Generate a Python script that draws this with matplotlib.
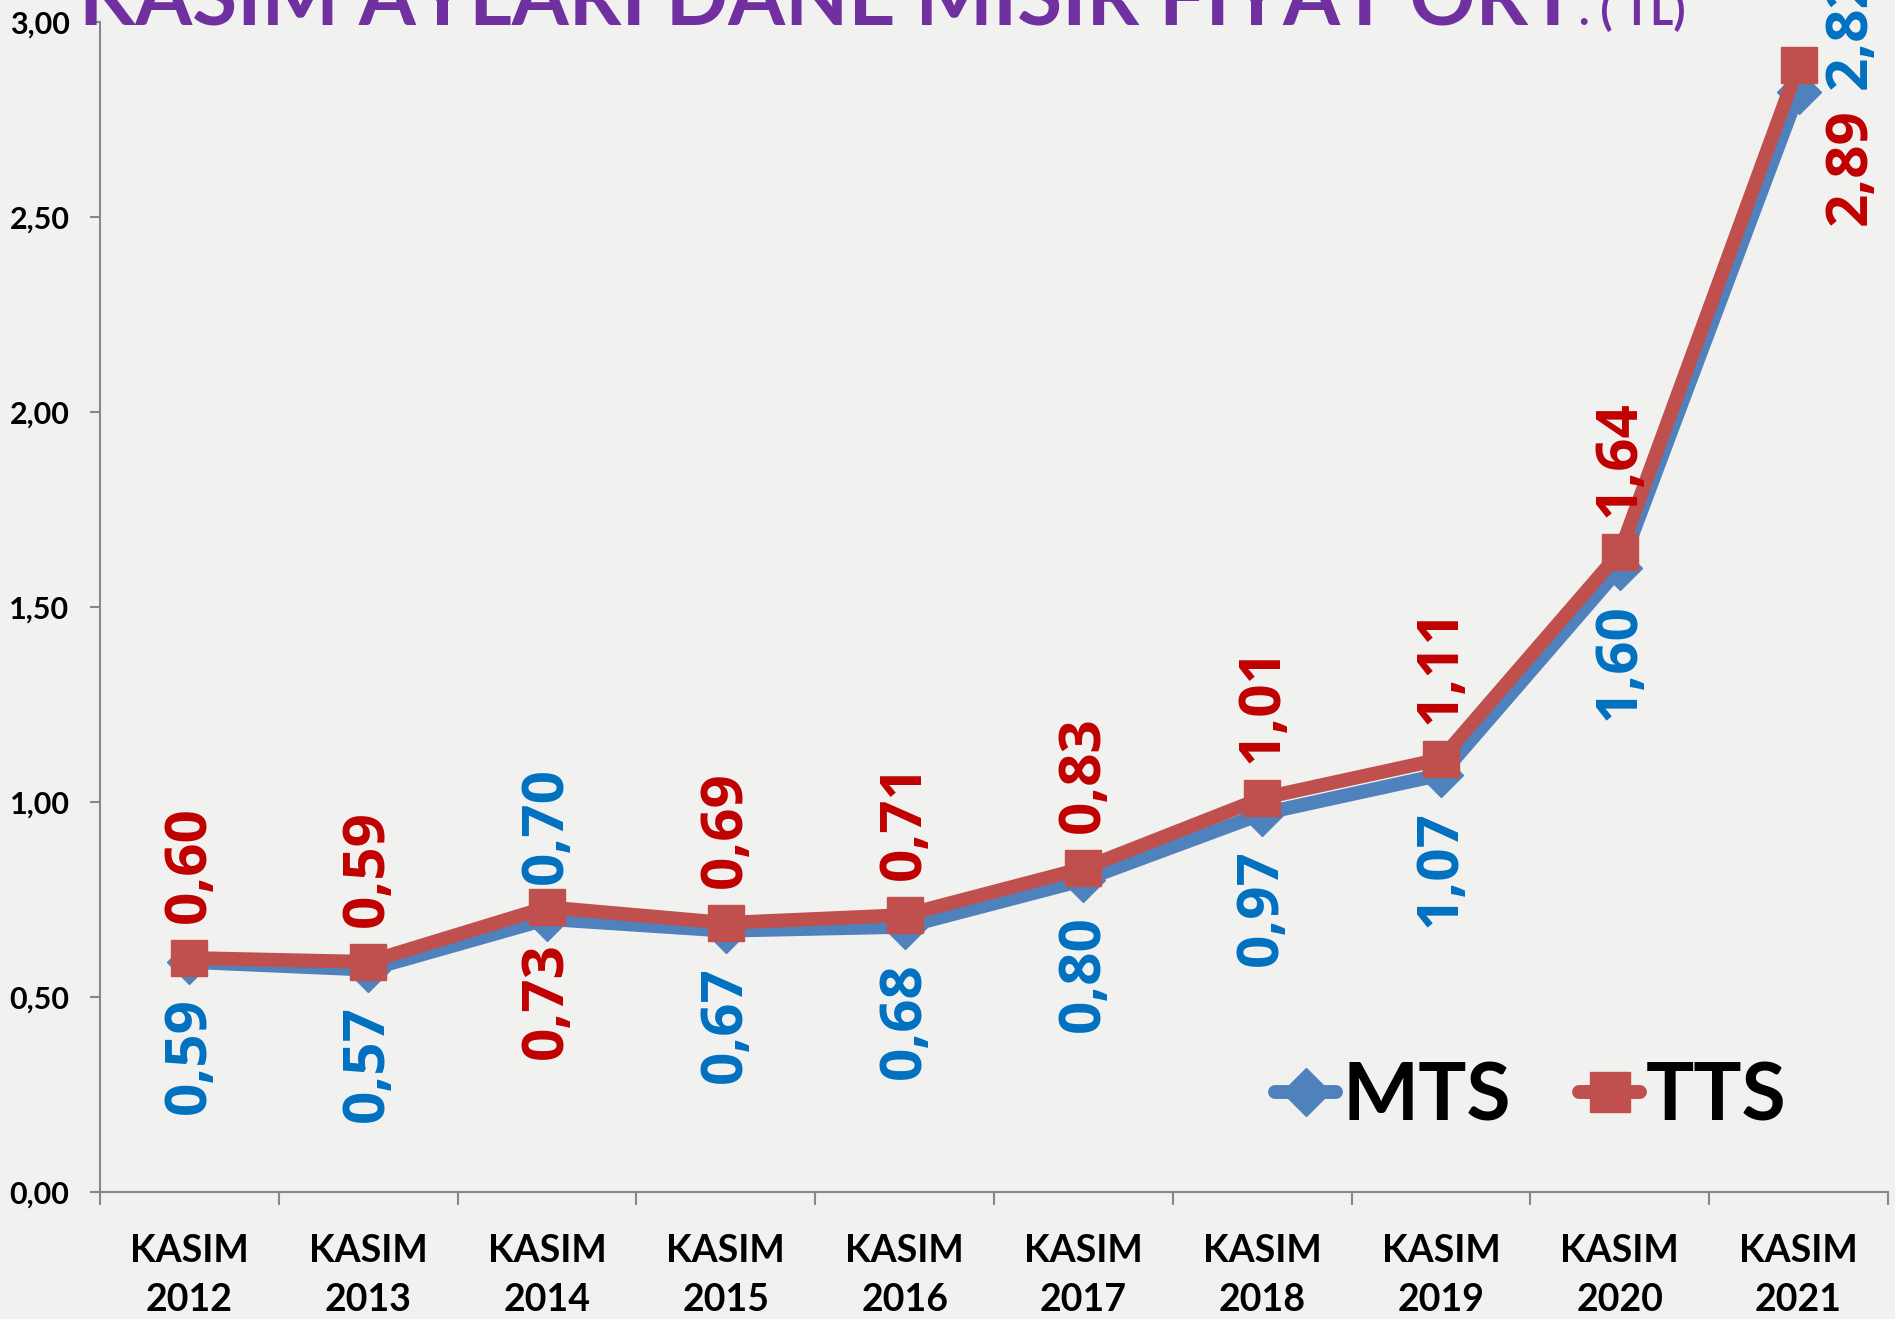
import matplotlib
matplotlib.use("Agg")
import matplotlib.pyplot as plt
import numpy as np

years = ["2012", "2013", "2014", "2015", "2016", "2017", "2018", "2019", "2020", "2021"]
mts = [0.59, 0.57, 0.70, 0.67, 0.68, 0.80, 0.97, 1.07, 1.60, 2.82]
tts = [0.60, 0.59, 0.73, 0.69, 0.71, 0.83, 1.01, 1.11, 1.64, 2.89]
yticks = [0.0, 0.5, 1.0, 1.5, 2.0, 2.5, 3.0]

# where the value labels sit: +1 above the point, -1 below
mts_side = [-1, -1, 1, -1, -1, -1, -1, -1, -1, 1]
tts_side = [1, 1, -1, 1, 1, 1, 1, 1, 1, -1]

blue_line = "#4F81BD"
red_line = "#C0504D"
blue_txt = "#0070C0"
red_txt = "#C00000"
bg = "#F1F1F0"

fig = plt.figure(figsize=(18.95, 13.19), dpi=100, facecolor=bg)
ax = fig.add_axes([0.0528, 0.0963, 0.9435, 0.887])
ax.set_facecolor(bg)

x = np.arange(len(years))
ax.plot(x, mts, color=blue_line, lw=10, marker="D", ms=22, mfc=blue_line, mec=blue_line,
        solid_joinstyle="round", solid_capstyle="round", label="MTS", zorder=3)
ax.plot(x, tts, color=red_line, lw=10, marker="s", ms=26, mfc=red_line, mec=red_line,
        solid_joinstyle="round", solid_capstyle="round", label="TTS", zorder=4)

def fmt(v):
    return f"{v:.2f}".replace(".", ",")

lab_font = dict(family="Open Sans", fontweight="bold", fontsize=42, rotation=90)
for i in range(len(years)):
    for vals, sides, col in ((mts, mts_side, blue_txt), (tts, tts_side, red_txt)):
        v = vals[i]
        side = sides[i]
        if i == len(years) - 1:
            # last point: labels pushed to the right of the marker
            dx = 52
            dy = 62 if side > 0 else -102
            ax.annotate(fmt(v), (x[i], v), xytext=(dx, dy), textcoords="offset pixels",
                        ha="center", va="center", color=col, zorder=5, **lab_font)
        else:
            ax.annotate(fmt(v), (x[i], v), xytext=(0, 35 * side), textcoords="offset pixels",
                        ha="center", va="bottom" if side > 0 else "top",
                        color=col, zorder=5, **lab_font)

ax.set_xlim(-0.5, len(years) - 0.5)
ax.set_ylim(0, 3)
ax.set_yticks(yticks)
ax.set_yticklabels([fmt(t) for t in yticks], fontsize=22, fontweight="bold", family="Lato")
ax.set_xticks(x)
ax.set_xticklabels(["KASIM\n" + y for y in years], fontsize=27, fontweight="bold",
                   family="Lato", linespacing=1.55)
ax.set_xticks(np.arange(-0.5, len(years), 1.0), minor=True)
ax.tick_params(axis="x", which="major", length=0, pad=30)
ax.tick_params(axis="x", which="minor", length=9, width=1.5, color="#888888", direction="out")
ax.tick_params(axis="y", length=7, width=1.5, color="#888888", pad=15)

for s in ("top", "right"):
    ax.spines[s].set_visible(False)
for s in ("left", "bottom"):
    ax.spines[s].set_color("#888888")
    ax.spines[s].set_linewidth(1.5)

title = fig.text(0.0415, 0.981, "KASIM AYLARI DANE MISIR FIYAT ORT", fontsize=59,
                 fontweight="bold", family="Lato", color="#7030A0", va="baseline", ha="left")
fig.canvas.draw()
tb = title.get_window_extent().transformed(fig.transFigure.inverted())
fig.text(tb.x1 + 0.001, 0.981, ". ( TL)", fontsize=32, fontweight="bold",
         family="Lato", color="#7030A0", va="baseline", ha="left")

leg = ax.legend(loc="center", bbox_to_anchor=(0.808, 0.168), bbox_transform=fig.transFigure,
                ncol=2, frameon=False, handlelength=0.75, handletextpad=0.08, columnspacing=0.85,
                prop=dict(family="Lato", weight="bold", size=58), markerscale=1.1)

fig.savefig("out.png", dpi=100, facecolor=bg)
